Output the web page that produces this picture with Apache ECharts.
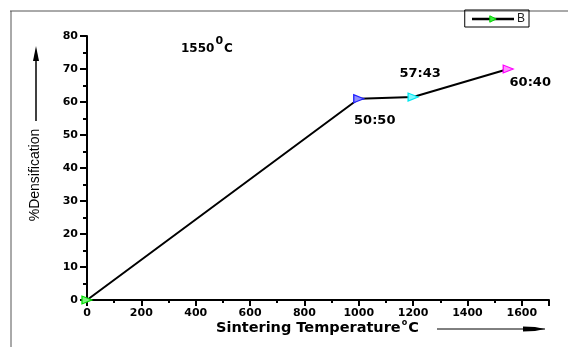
<!DOCTYPE html>
<html>
<head>
<meta charset="utf-8">
<script src="https://cdn.jsdelivr.net/npm/echarts@6/dist/echarts.min.js"></script>
<style>
  html, body { margin: 0; padding: 0; background: #fff; }
  #chart { width: 568px; height: 347px; }
</style>
</head>
<body>
<div id="chart"></div>
<script>
// sintering temperature (x) vs densification (y)
var temps = [0, 1000, 1200, 1550];
var density = [0, 61, 61.5, 70];
var ratioLabels = ['', '50:50', '57:43', '60:40'];
var markerColors = ['#00e000', '#2020ff', '#00e8f0', '#ff00ff'];
var markerFills = ['#80f080', '#9090ff', '#80f8ff', '#ff90ff'];
var xTicks = [0, 200, 400, 600, 800, 1000, 1200, 1400, 1600];
var yTicks = [0, 10, 20, 30, 40, 50, 60, 70, 80];

var chart = echarts.init(document.getElementById('chart'));

// where each ratio label sits relative to its point
var labelOffsets = [[0, 0], [16, 22], [7, -23], [22, 14]];

var points = temps.map(function (t, i) {
  return {
    value: [t, density[i]],
    itemStyle: { color: markerFills[i], borderColor: markerColors[i], borderWidth: 1.2 },
    label: {
      show: ratioLabels[i] !== '',
      formatter: ratioLabels[i],
      offset: labelOffsets[i]
    }
  };
});

var boldFont = 'DejaVu Sans, Verdana, sans-serif';
var tickFont = { color: '#000', fontWeight: 'bold', fontSize: 11, fontFamily: boldFont };

var option = {
  animation: false,
  grid: { left: 87, right: 19, top: 36, bottom: 47 },
  legend: {
    right: 39, top: 10,
    padding: [3, 4, 2, 6],
    borderColor: '#000', borderWidth: 1,
    itemWidth: 42, itemHeight: 8, itemGap: 4,
    textStyle: { color: '#222', fontSize: 12, fontFamily: 'Liberation Sans, Arial, sans-serif', padding: [0, 0, 0, -2] },
    itemStyle: { color: '#40f040', borderColor: '#00d000', borderWidth: 1 },
    lineStyle: { width: 2.5 },
    data: ['B']
  },
  xAxis: {
    type: 'value', min: 0, max: 1700, interval: 200,
    axisLine: { show: true, lineStyle: { color: '#000', width: 2 } },
    axisTick: { show: true, length: 6, lineStyle: { width: 2 } },
    minorTick: { show: true, splitNumber: 2, length: 3, lineStyle: { color: '#000', width: 2 } },
    splitLine: { show: false },
    axisLabel: Object.assign({ margin: 8, formatter: function (v) { return xTicks.indexOf(v) >= 0 ? v : ''; } }, tickFont)
  },
  yAxis: {
    type: 'value', min: 0, max: 80, interval: 10,
    axisLine: { show: true, lineStyle: { color: '#000', width: 2 } },
    axisTick: { show: true, length: 7, lineStyle: { width: 2 } },
    minorTick: { show: true, splitNumber: 2, length: 4, lineStyle: { color: '#000', width: 2 } },
    splitLine: { show: false },
    axisLabel: Object.assign({ margin: 9, formatter: function (v) { return yTicks.indexOf(v) >= 0 ? v : ''; } }, tickFont)
  },
  series: [{
    name: 'B',
    type: 'line',
    data: points,
    symbol: 'triangle',
    symbolRotate: -90,
    symbolSize: [8, 10],
    lineStyle: { color: '#000', width: 2 },
    itemStyle: { color: '#40f040', borderColor: '#00d000' },
    label: {
      color: '#000', fontWeight: 'bold', fontSize: 13,
      fontFamily: boldFont, position: 'inside'
    }
  }],
  graphic: [
    // outer frame, top and left
    { type: 'line', shape: { x1: 10, y1: 11, x2: 568, y2: 11 }, style: { stroke: '#555', lineWidth: 1 } },
    { type: 'line', shape: { x1: 11, y1: 11, x2: 11, y2: 347 }, style: { stroke: '#555', lineWidth: 1 } },
    // temperature note
    {
      type: 'text', left: 181, top: 36,
      style: {
        text: '{n|1550}{s|0}{n|C}',
        rich: {
          n: { fontSize: 12, fontWeight: 'bold', fontFamily: boldFont, fill: '#000', padding: [8, 0, 0, 0] },
          s: { fontSize: 11, fontWeight: 'bold', fontFamily: boldFont, fill: '#000', padding: [0, 1, 6, 1] }
        }
      }
    },
    // y-axis title with arrow
    {
      type: 'text', x: 35, y: 175, rotation: Math.PI / 2,
      style: {
        text: '%Densification', fontSize: 14, fontFamily: 'Liberation Sans, Arial, sans-serif', fill: '#000',
        align: 'center', verticalAlign: 'middle'
      }
    },
    { type: 'line', shape: { x1: 36, y1: 121, x2: 36, y2: 58 }, style: { stroke: '#000', lineWidth: 1.5 } },
    { type: 'polygon', shape: { points: [[33, 61], [39, 61], [36, 46]] }, style: { fill: '#000' } },
    // x-axis title with arrow
    {
      type: 'text', left: 216, top: 319,
      style: {
        text: '{n|Sintering Temperature}{s|o}{n|C}',
        rich: {
          n: { fontSize: 14.5, fontWeight: 'bold', fontFamily: boldFont, fill: '#000', padding: [5, 0, 0, 0] },
          s: { fontSize: 8, fontWeight: 'bold', fontFamily: boldFont, fill: '#000', padding: [0, 1, 5, 1] }
        }
      }
    },
    { type: 'line', shape: { x1: 437, y1: 329, x2: 545, y2: 329 }, style: { stroke: '#000', lineWidth: 1 } },
    { type: 'polygon', shape: { points: [[523, 326.5], [535, 327], [545, 329], [535, 331], [523, 331.5]] }, style: { fill: '#000' } }
  ]
};

chart.setOption(option);
</script>
</body>
</html>
